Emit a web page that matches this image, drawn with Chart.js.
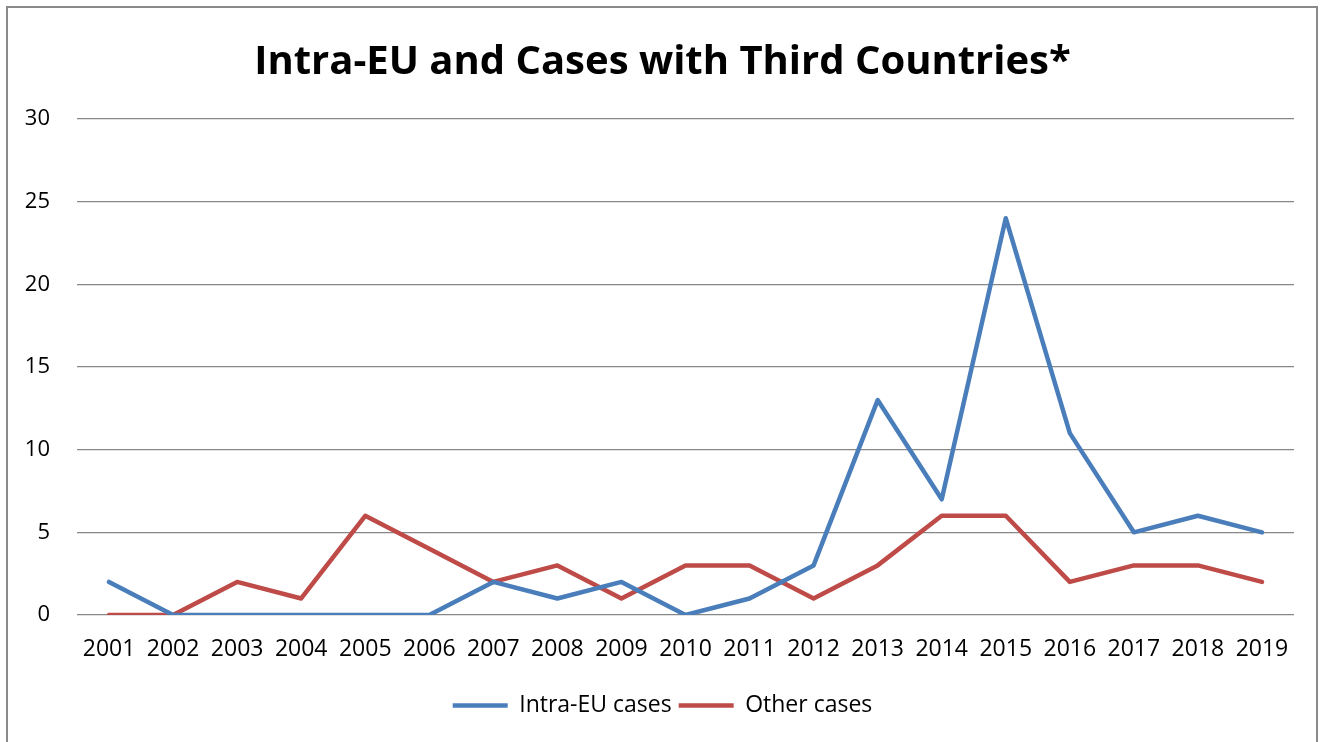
<!DOCTYPE html>
<html>
<head>
<meta charset="utf-8">
<title>Intra-EU and Cases with Third Countries</title>
<script src="https://cdn.jsdelivr.net/npm/chart.js@4.4.1/dist/chart.umd.min.js"></script>
<style>
  html, body { margin: 0; padding: 0; background: #fff; overflow: hidden; }
  #wrap { position: relative; width: 1325px; height: 742px; }
  #frame {
    position: absolute; left: 6px; top: 6px; width: 1312px; height: 800px;
    border: 2px solid #8a8a8a; box-sizing: border-box; pointer-events: none;
  }
  canvas { position: absolute; left: 0; top: 0; }
</style>
</head>
<body>
<div id="wrap">
  <canvas id="chart" width="1325" height="742"></canvas>
  <div id="frame"></div>
</div>
<script>
// Chart data
const years = ['2001', '2002', '2003', '2004', '2005', '2006', '2007', '2008', '2009', '2010',
  '2011', '2012', '2013', '2014', '2015', '2016', '2017', '2018', '2019'];
const intraEU = [2, 0, 0, 0, 0, 0, 2, 1, 2, 0, 1, 3, 13, 7, 24, 11, 5, 6, 5];
const otherCases = [0, 0, 2, 1, 6, 4, 2, 3, 1, 3, 3, 1, 3, 6, 6, 2, 3, 3, 2];

const FONT = "'Open Sans', 'Liberation Sans', sans-serif";

document.addEventListener('DOMContentLoaded', () => {
  const ctx = document.getElementById('chart');

  new Chart(ctx, {
    type: 'line',
    data: {
      labels: years,
      datasets: [
        {
          label: 'Intra-EU cases',
          data: intraEU,
          borderColor: '#4a7ebb',
          backgroundColor: '#4a7ebb',
          borderWidth: 4.5,
          borderCapStyle: 'round',
          borderJoinStyle: 'round',
          pointRadius: 0,
          pointStyle: 'line',
          tension: 0
        },
        {
          label: 'Other cases',
          data: otherCases,
          borderColor: '#be4b48',
          backgroundColor: '#be4b48',
          borderWidth: 4.5,
          borderCapStyle: 'round',
          borderJoinStyle: 'round',
          pointRadius: 0,
          pointStyle: 'line',
          tension: 0
        }
      ]
    },
    options: {
      responsive: false,
      animation: false,
      layout: {
        padding: { left: 0, right: 0, top: 0, bottom: 15 }
      },
      scales: {
        x: {
          offset: true,
          grid: { display: false },
          border: { display: false },
          ticks: {
            color: '#000',
            padding: 13,
            maxRotation: 0,
            autoSkip: false,
            font: { family: FONT, size: 23 }
          },
          afterFit(scale) {
            scale.height = 72;
          }
        },
        y: {
          min: 0,
          max: 30,
          border: { display: false },
          grid: {
            color: '#878787',
            lineWidth: 1.2,
            drawTicks: false
          },
          ticks: {
            stepSize: 5,
            color: '#000',
            padding: 27,
            font: { family: FONT, size: 22 }
          },
          afterFit(scale) {
            scale.width = 77;
          }
        },
        // empty right-hand spacer so the plot ends before the frame
        // while title and legend stay centred on the whole picture
        spacer: {
          type: 'linear',
          position: 'right',
          grid: { display: false },
          border: { display: false },
          ticks: { display: false },
          afterFit(scale) {
            scale.width = 31;
          }
        }
      },
      plugins: {
        title: {
          display: true,
          text: 'Intra-EU and Cases with Third Countries*',
          color: '#000',
          font: { family: FONT, size: 40, weight: 'bold' },
          padding: { top: 39, bottom: 32 }
        },
        legend: {
          position: 'bottom',
          labels: {
            color: '#000',
            usePointStyle: true,
            pointStyleWidth: 55,
            boxHeight: 20,
            padding: 7,
            font: { family: FONT, size: 23 }
          }
        },
        tooltip: { enabled: false }
      }
    }
  });
});
</script>
</body>
</html>
